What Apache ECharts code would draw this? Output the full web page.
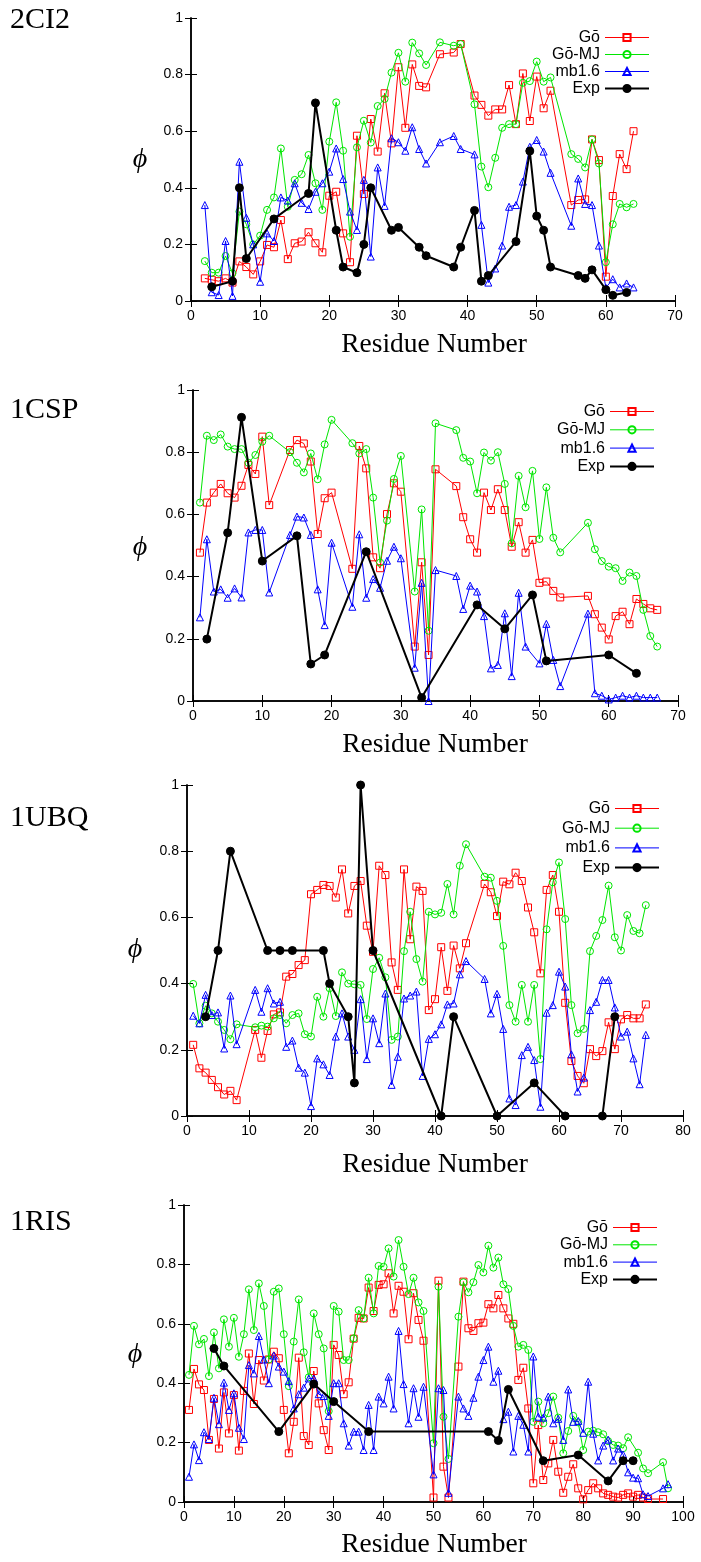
<!DOCTYPE html>
<html><head><meta charset="utf-8">
<script src="https://cdn.jsdelivr.net/npm/echarts@6.0.0/dist/echarts.min.js"></script>
<style>html,body{margin:0;padding:0;background:#fff}#c{width:701px;height:1562px}</style>
</head><body><div id="c"></div>
<script>
// ---------------- DATA ----------------
const seriesNames = ['Gō', 'Gō-MJ', 'mb1.6', 'Exp'];
const panelLabels = ['2CI2', '1CSP', '1UBQ', '1RIS'];
const xMaxes = [70, 70, 80, 100];

// 2CI2
const ci2Res = [2,3,4,5,6,7,8,9,10,11,12,13,14,15,16,17,18,19,20,21,22,23,24,25,26,27,28,29,30,31,32,33,34,36,38,39,41,42,43,44,45,46,47,48,49,50,51,52,55,56,57,58,59,60,61,62,63,64];
const ci2Go = [0.08,0.075,0.07,0.08,0.065,0.14,0.12,0.094,0.14,0.198,0.19,0.286,0.148,0.204,0.21,0.243,0.204,0.172,0.372,0.386,0.239,0.137,0.584,0.378,0.643,0.528,0.734,0.557,0.826,0.612,0.836,0.76,0.755,0.872,0.878,0.908,0.726,0.693,0.655,0.677,0.677,0.763,0.625,0.804,0.636,0.793,0.681,0.743,0.339,0.357,0.359,0.571,0.498,0.086,0.371,0.519,0.466,0.60];
const ci2GoMJ = [0.141,0.10,0.10,0.159,0.098,0.316,0.271,0.20,0.231,0.322,0.366,0.539,0.333,0.428,0.448,0.516,0.416,0.322,0.563,0.702,0.531,0.227,0.543,0.637,0.56,0.689,0.714,0.807,0.877,0.775,0.913,0.875,0.834,0.914,0.902,0.908,0.695,0.475,0.402,0.506,0.612,0.625,0.625,0.771,0.777,0.846,0.775,0.79,0.519,0.502,0.472,0.571,0.486,0.137,0.271,0.343,0.331,0.343];
const ci2Mb = [0.339,0.031,0.021,0.212,0.018,0.492,0.294,0.20,0.068,0.239,0.212,0.366,0.355,0.416,0.347,0.325,0.386,0.416,0.457,0.539,0.431,0.316,0.251,0.428,0.157,0.472,0.336,0.575,0.561,0.531,0.614,0.537,0.486,0.561,0.583,0.537,0.518,0.269,0.065,0.115,0.196,0.333,0.339,0.422,0.545,0.569,0.528,0.453,0.266,0.433,0.343,0.339,0.196,0.047,0.077,0.048,0.062,0.048];
const ci2ExpRes = [3,6,7,8,12,17,18,21,22,24,25,26,29,30,33,34,38,39,41,42,43,47,49,50,51,52,56,57,58,60,61,63];
const ci2Exp = [0.05,0.07,0.40,0.15,0.29,0.38,0.70,0.25,0.12,0.10,0.20,0.40,0.25,0.26,0.19,0.16,0.12,0.19,0.32,0.07,0.09,0.21,0.53,0.30,0.25,0.12,0.09,0.08,0.11,0.04,0.02,0.03];

// 1CSP
const cspRes = [1,2,3,4,5,6,7,8,9,10,11,14,15,16,17,18,19,20,23,24,25,26,27,28,29,30,32,33,34,35,38,39,40,41,42,43,44,45,46,47,48,49,50,51,52,53,57,58,59,60,61,62,63,64,65,66,67];
const cspGo = [0.477,0.638,0.67,0.698,0.668,0.654,0.692,0.759,0.73,0.85,0.63,0.807,0.839,0.828,0.77,0.537,0.652,0.67,0.425,0.82,0.748,0.462,0.427,0.601,0.70,0.673,0.175,0.446,0.148,0.745,0.691,0.591,0.52,0.477,0.67,0.614,0.681,0.614,0.496,0.575,0.477,0.518,0.38,0.384,0.354,0.333,0.338,0.279,0.236,0.198,0.273,0.287,0.247,0.328,0.312,0.298,0.293];
const cspGoMJ = [0.638,0.853,0.839,0.857,0.818,0.81,0.81,0.766,0.791,0.834,0.853,0.80,0.766,0.735,0.796,0.713,0.825,0.904,0.829,0.796,0.81,0.654,0.445,0.58,0.714,0.788,0.352,0.616,0.226,0.893,0.871,0.782,0.77,0.668,0.799,0.773,0.80,0.698,0.507,0.724,0.623,0.74,0.521,0.687,0.525,0.478,0.573,0.488,0.45,0.432,0.427,0.386,0.413,0.402,0.293,0.209,0.175];
const cspMbRes = [1,2,3,4,5,6,7,8,9,10,11,14,15,16,17,18,19,20,23,24,25,26,27,28,29,30,32,33,34,35,38,39,40,41,42,43,44,45,46,47,48,50,51,52,53,57,58,59,60,61,62,63,64,65,66,67];
const cspMb = [0.269,0.52,0.352,0.359,0.332,0.362,0.333,0.542,0.55,0.55,0.349,0.534,0.593,0.59,0.534,0.359,0.244,0.509,0.303,0.536,0.332,0.392,0.364,0.451,0.496,0.459,0.107,0.38,0.0,0.421,0.402,0.296,0.371,0.352,0.273,0.105,0.116,0.282,0.08,0.348,0.175,0.121,0.248,0.132,0.048,0.281,0.025,0.017,0.005,0.011,0.017,0.011,0.017,0.011,0.011,0.011];
const cspExpRes = [2,5,7,10,15,17,19,25,33,41,45,49,51,60,64];
const cspExp = [0.199,0.541,0.912,0.45,0.531,0.119,0.148,0.48,0.011,0.309,0.232,0.341,0.129,0.148,0.089];

// 1UBQ
const ubqRes = [1,2,3,4,5,6,7,8,11,12,13,14,15,16,17,18,19,20,21,22,23,24,25,26,27,28,29,30,31,32,33,34,35,36,37,38,39,40,41,42,43,44,45,48,49,50,51,52,53,54,55,56,57,58,59,60,61,62,63,64,65,66,67,68,69,70,71,72,73,74];
const ubqGo = [0.215,0.144,0.131,0.109,0.087,0.065,0.076,0.048,0.26,0.176,0.257,0.307,0.313,0.421,0.429,0.456,0.471,0.67,0.683,0.698,0.695,0.66,0.745,0.612,0.695,0.71,0.575,0.496,0.756,0.728,0.464,0.381,0.745,0.534,0.693,0.68,0.32,0.353,0.51,0.378,0.515,0.446,0.522,0.701,0.676,0.604,0.708,0.70,0.735,0.71,0.63,0.555,0.431,0.683,0.728,0.617,0.342,0.166,0.121,0.099,0.202,0.181,0.196,0.283,0.202,0.292,0.305,0.295,0.295,0.337];
const ubqGoMJ = [0.399,0.28,0.333,0.31,0.285,0.26,0.232,0.277,0.268,0.273,0.27,0.295,0.305,0.28,0.305,0.31,0.247,0.24,0.36,0.30,0.386,0.302,0.434,0.40,0.398,0.396,0.293,0.444,0.478,0.419,0.23,0.24,0.498,0.617,0.474,0.406,0.617,0.609,0.614,0.701,0.609,0.756,0.821,0.723,0.72,0.65,0.514,0.335,0.285,0.396,0.285,0.396,0.172,0.564,0.706,0.766,0.595,0.335,0.25,0.263,0.498,0.544,0.592,0.696,0.54,0.50,0.607,0.559,0.552,0.637];
const ubqMb = [0.303,0.28,0.366,0.305,0.313,0.204,0.364,0.217,0.381,0.315,0.386,0.34,0.345,0.209,0.228,0.146,0.131,0.03,0.174,0.156,0.124,0.24,0.31,0.24,0.20,0.353,0.172,0.295,0.22,0.37,0.094,0.179,0.355,0.364,0.376,0.121,0.233,0.247,0.277,0.337,0.34,0.428,0.468,0.414,0.31,0.369,0.263,0.053,0.033,0.184,0.209,0.169,0.028,0.312,0.335,0.436,0.391,0.186,0.074,0.116,0.32,0.345,0.411,0.411,0.328,0.24,0.255,0.174,0.096,0.245];
const ubqExpRes = [3,5,7,13,15,17,22,23,26,27,28,30,41,43,50,56,61,67,69];
const ubqExp = [0.30,0.50,0.80,0.50,0.50,0.50,0.50,0.40,0.30,0.10,1.00,0.50,0,0.30,0,0.10,0,0,0.30];

// 1RIS
const risGoRes = [1,2,3,4,5,6,7,8,9,10,11,12,13,14,15,16,17,18,19,20,21,22,23,24,25,26,27,28,29,30,31,32,33,34,35,36,37,38,39,40,41,42,43,44,45,46,47,48,50,51,52,53,55,56,57,58,59,60,61,62,63,64,65,66,67,68,69,70,71,72,73,74,75,76,77,78,79,80,81,82,83,84,85,86,87,88,89,90,91,92,93,96];
const risGo = [0.31,0.448,0.396,0.377,0.209,0.347,0.18,0.369,0.231,0.36,0.173,0.374,0.50,0.33,0.478,0.409,0.48,0.506,0.484,0.31,0.164,0.27,0.486,0.222,0.192,0.441,0.332,0.242,0.175,0.529,0.495,0.363,0.403,0.55,0.62,0.618,0.722,0.643,0.731,0.733,0.77,0.635,0.728,0.708,0.548,0.703,0.613,0.543,0.015,0.745,0.119,0.015,0.456,0.742,0.585,0.576,0.602,0.604,0.666,0.652,0.697,0.652,0.618,0.60,0.411,0.452,0.315,0.063,0.259,0.074,0.13,0.209,0.102,0.031,0.085,0.127,0.046,0.009,0.04,0.063,0.046,0.029,0.024,0.018,0.015,0.024,0.029,0.018,0.024,0.015,0.01,0.01];
const risGoMJRes = [1,2,3,4,5,6,7,8,9,10,11,12,13,14,15,16,17,18,19,20,21,22,23,24,25,26,27,28,29,30,31,32,33,34,35,36,37,38,39,40,41,42,43,44,45,46,47,48,50,51,52,53,55,56,57,58,59,60,61,62,63,64,65,66,67,68,69,70,71,72,73,74,75,76,77,78,79,80,81,82,83,84,85,86,87,88,89,91,92,93,96,97];
const risGoMJ = [0.428,0.593,0.531,0.549,0.424,0.571,0.45,0.615,0.523,0.62,0.489,0.565,0.716,0.579,0.736,0.66,0.48,0.708,0.719,0.565,0.39,0.54,0.682,0.504,0.42,0.635,0.565,0.517,0.306,0.66,0.641,0.478,0.478,0.551,0.646,0.618,0.755,0.635,0.795,0.792,0.854,0.759,0.882,0.792,0.70,0.755,0.672,0.643,0.198,0.725,0.287,0.145,0.624,0.74,0.706,0.74,0.798,0.773,0.863,0.789,0.823,0.733,0.717,0.593,0.523,0.529,0.512,0.27,0.338,0.265,0.299,0.355,0.284,0.164,0.239,0.29,0.268,0.175,0.237,0.24,0.235,0.228,0.205,0.192,0.19,0.181,0.218,0.166,0.113,0.097,0.134,0.046];
const risMbRes = [1,2,3,4,5,6,7,8,9,10,11,12,13,14,15,16,17,18,19,20,21,22,23,24,25,26,27,28,29,30,31,32,33,34,35,36,37,38,39,40,41,42,43,44,45,46,47,48,50,51,52,53,55,56,57,58,59,60,61,62,63,64,65,66,67,68,69,70,71,72,73,74,75,76,77,78,79,80,81,82,83,84,85,86,87,88,89,90,91,92,93,96,97];
const risMb = [0.085,0.194,0.141,0.235,0.212,0.351,0.262,0.402,0.31,0.366,0.25,0.212,0.461,0.433,0.559,0.48,0.40,0.493,0.456,0.439,0.407,0.315,0.363,0.385,0.416,0.416,0.363,0.357,0.29,0.40,0.40,0.265,0.19,0.237,0.237,0.175,0.327,0.175,0.355,0.332,0.422,0.315,0.576,0.397,0.265,0.383,0.287,0.388,0.093,0.383,0.377,0.031,0.355,0.315,0.29,0.351,0.422,0.478,0.523,0.405,0.442,0.279,0.304,0.17,0.29,0.26,0.17,0.49,0.287,0.284,0.355,0.265,0.28,0.209,0.379,0.27,0.273,0.233,0.405,0.23,0.14,0.19,0.21,0.14,0.18,0.16,0.10,0.082,0.08,0.026,0.02,0.046,0.06];
const risExpRes = [6,8,19,26,30,37,61,63,65,72,79,85,88,90];
const risExp = [0.517,0.458,0.237,0.397,0.338,0.237,0.237,0.207,0.379,0.139,0.158,0.071,0.139,0.139];

// ---------------- LAYOUT ----------------
const panelData = [
  [[ci2Res, ci2Go], [ci2Res, ci2GoMJ], [ci2Res, ci2Mb], [ci2ExpRes, ci2Exp]],
  [[cspRes, cspGo], [cspRes, cspGoMJ], [cspMbRes, cspMb], [cspExpRes, cspExp]],
  [[ubqRes, ubqGo], [ubqRes, ubqGoMJ], [ubqRes, ubqMb], [ubqExpRes, ubqExp]],
  [[risGoRes, risGo], [risGoMJRes, risGoMJ], [risMbRes, risMb], [risExpRes, risExp]]
];
const layout = [
  {grid:{left:191, top:18, width:484, height:283}, label:[10,20], xt:[434,345], yt:[140,160], lg:{right:46, top:24, gap:0}},
  {grid:{left:193, top:390, width:485, height:311}, label:[10,410], xt:[435,745], yt:[140,548], lg:{right:41, top:398, gap:1.3}},
  {grid:{left:187, top:785, width:496, height:331}, label:[10,818], xt:[435,1165], yt:[135,950], lg:{right:36, top:795, gap:2.7}},
  {grid:{left:184, top:1205, width:499, height:297}, label:[10,1222], xt:[434,1545], yt:[135,1355], lg:{right:38, top:1214, gap:0.3}}
];
const styles = [
  {symbol:'rect', size:7, color:'#ff0000', width:1, fill:'transparent', z:2},
  {symbol:'circle', size:7, color:'#00e600', width:1, fill:'transparent', z:3},
  {symbol:'triangle', size:7, color:'#0000ff', width:1, fill:'transparent', z:4},
  {symbol:'circle', size:8, color:'#000000', width:2, fill:'#000000', z:5}
];

const SANS = 'Liberation Sans, Arial, sans-serif';
const SERIF = 'Liberation Serif, Times New Roman, serif';

const grids = [], xAxes = [], yAxes = [], series = [], legends = [], graphics = [];
const axLine = {show:true, lineStyle:{color:'#000', width:1.5}};
const tick = {show:true, inside:true, length:6, lineStyle:{color:'#000', width:1}};
layout.forEach((L, i) => {
  grids.push(Object.assign({show:false, containLabel:false, outerBoundsMode:'none'}, L.grid));
  xAxes.push({gridIndex:i, type:'value', min:0, max:xMaxes[i], interval:10, position:'bottom',
    axisLine:axLine, axisTick:tick, splitLine:{show:false},
    axisLabel:{color:'#000', fontSize:14, fontFamily:SANS, margin:8}});
  yAxes.push({gridIndex:i, type:'value', min:0, max:1, interval:0.2, position:'left',
    axisLine:axLine, axisTick:tick, splitLine:{show:false},
    axisLabel:{color:'#000', fontSize:14, fontFamily:SANS, margin:8}});
});
layout.forEach((L, i) => {
  xAxes.push({gridIndex:i, type:'value', min:0, max:xMaxes[i], interval:10, position:'top',
    axisLine:axLine, axisTick:tick, splitLine:{show:false}, axisLabel:{show:false}});
  yAxes.push({gridIndex:i, type:'value', min:0, max:1, interval:0.2, position:'right',
    axisLine:axLine, axisTick:tick, splitLine:{show:false}, axisLabel:{show:false}});
});

panelData.forEach((pd, i) => {
  pd.forEach((pair, k) => {
    const st = styles[k];
    const [xs, ys] = pair;
    series.push({
      type:'line', name:seriesNames[k], xAxisIndex:i, yAxisIndex:i,
      data: xs.map((x, j) => [x, ys[j]]),
      symbol: st.symbol, symbolSize: st.size, showSymbol:true, showAllSymbol:true,
      lineStyle:{color:st.color, width:st.width},
      itemStyle:{color:st.fill, borderColor:st.color, borderWidth:1},
      emphasis:{disabled:true}, z: st.z, animation:false, clip:false
    });
  });
  const L = layout[i];
  legends.push({
    show:true, orient:'vertical', align:'right', right:L.lg.right, top:L.lg.top,
    itemWidth:44, itemHeight:9, itemGap:L.lg.gap, selectedMode:false,
    data: seriesNames.map((n, k) => ({name:n, lineStyle:{width:styles[k].width}})),
    textStyle:{color:'#000', fontSize:16, fontFamily:SANS, lineHeight:17}
  });
  graphics.push({type:'text', x:L.label[0], y:L.label[1],
    style:{text:panelLabels[i], fill:'#000', fontSize:30, fontFamily:SERIF, align:'left', verticalAlign:'middle'}});
  graphics.push({type:'text', x:L.xt[0], y:L.xt[1],
    style:{text:'Residue Number', fill:'#000', fontSize:27.5, fontFamily:SERIF, align:'center', verticalAlign:'middle'}});
  graphics.push({type:'text', x:L.yt[0], y:L.yt[1],
    style:{text:'ϕ', fill:'#000', fontSize:28, fontStyle:'italic', fontFamily:SERIF, align:'center', verticalAlign:'middle'}});
});

const chart = echarts.init(document.getElementById('c'), null, {renderer:'canvas'});
chart.setOption({
  animation:false,
  backgroundColor:'#fff',
  grid:grids, xAxis:xAxes, yAxis:yAxes, series:series, legend:legends, graphic:graphics,
  tooltip:{show:false}
});
</script></body></html>
